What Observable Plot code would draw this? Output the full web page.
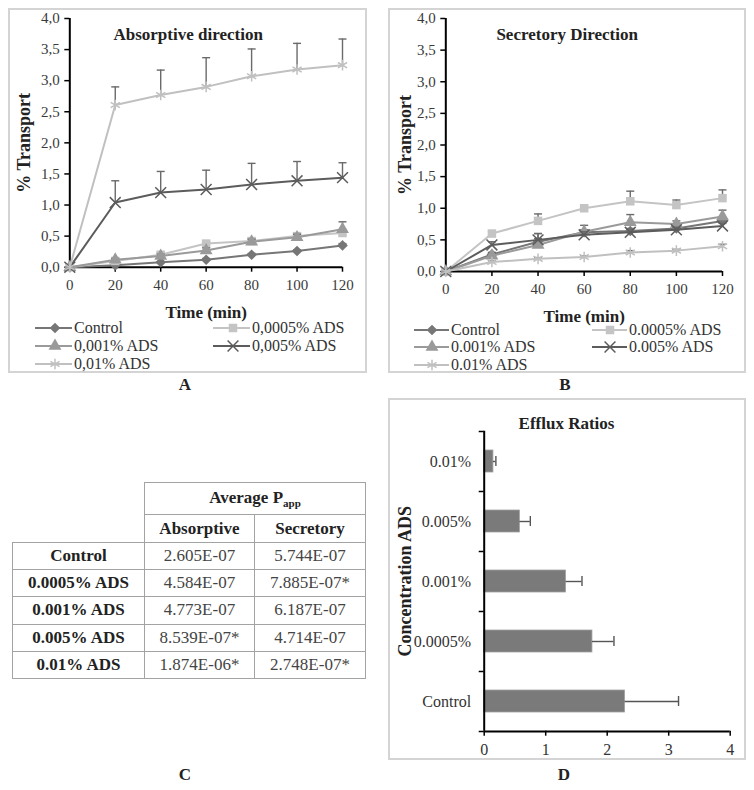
<!DOCTYPE html>
<html><head><meta charset="utf-8">
<script src="https://cdn.jsdelivr.net/npm/d3@7"></script>
<script src="https://cdn.jsdelivr.net/npm/@observablehq/plot@0.6"></script>
<style>
body{margin:0;background:#fff;font-family:"Liberation Serif","Times New Roman",serif;color:#222;}
#root{position:relative;width:754px;height:790px;overflow:hidden;background:#fff;}
.box{position:absolute;border:2px solid #d4d4d4;box-sizing:border-box;}
.abs{position:absolute;}
.letter{position:absolute;font-weight:bold;font-size:17px;transform:translate(-50%,-50%);color:#222;}
.leg{position:absolute;font-size:16px;color:#333;white-space:nowrap;line-height:16px;}
table.papp{position:absolute;left:12px;top:482px;border-collapse:collapse;font-size:17px;table-layout:fixed;}
table.papp td{border:1.5px solid #a3a3a3;text-align:center;padding:0;color:#444;}
table.papp td.h{font-weight:bold;color:#222;}
table.papp td.empty{border:none;}
sub{font-size:11px;}
</style>
</head><body><div id="root"></div>
<script>
// ---------- data ----------
const times = [0, 20, 40, 60, 80, 100, 120];
const yTicks = [0, 0.5, 1, 1.5, 2, 2.5, 3, 3.5, 4];
const seriesA = ["Control", "0,0005% ADS", "0,001% ADS", "0,005% ADS", "0,01% ADS"];
const seriesB = ["Control", "0.0005% ADS", "0.001% ADS", "0.005% ADS", "0.01% ADS"];

// Absorptive direction (% transport) and upper error (SD)
const absControl   = [0, 0.03, 0.08, 0.12, 0.20, 0.26, 0.35];
const absControlSd = [0, 0.01, 0.01, 0.02, 0.02, 0.02, 0.03];
const abs0005      = [0, 0.10, 0.20, 0.38, 0.42, 0.50, 0.55];
const abs0005Sd    = [0, 0.02, 0.03, 0.03, 0.04, 0.04, 0.05];
const abs001       = [0, 0.12, 0.18, 0.27, 0.41, 0.48, 0.61];
const abs001Sd     = [0, 0.02, 0.03, 0.04, 0.04, 0.05, 0.12];
const abs005       = [0, 1.04, 1.20, 1.25, 1.33, 1.39, 1.44];
const abs005Sd     = [0, 0.35, 0.34, 0.31, 0.34, 0.31, 0.24];
const abs01        = [0, 2.61, 2.77, 2.90, 3.07, 3.18, 3.25];
const abs01Sd      = [0, 0.29, 0.40, 0.47, 0.44, 0.42, 0.42];

// Secretory direction
const secControl   = [0, 0.27, 0.47, 0.62, 0.64, 0.68, 0.80];
const secControlSd = [0, 0.03, 0.05, 0.04, 0.04, 0.04, 0.05];
const sec0005      = [0, 0.60, 0.80, 1.00, 1.11, 1.05, 1.16];
const sec0005Sd    = [0, 0.03, 0.11, 0.03, 0.16, 0.08, 0.13];
const sec001       = [0, 0.25, 0.42, 0.63, 0.78, 0.75, 0.87];
const sec001Sd     = [0, 0.05, 0.18, 0.10, 0.12, 0.05, 0.10];
const sec005       = [0, 0.42, 0.50, 0.58, 0.62, 0.66, 0.72];
const sec005Sd     = [0, 0.05, 0.10, 0.05, 0.05, 0.04, 0.04];
const sec01        = [0, 0.15, 0.20, 0.23, 0.30, 0.33, 0.40];
const sec01Sd      = [0, 0.02, 0.02, 0.02, 0.03, 0.02, 0.03];

// Table C
const tableRows = ["Control", "0.0005% ADS", "0.001% ADS", "0.005% ADS", "0.01% ADS"];
const pappAbsorptive = ["2.605E-07", "4.584E-07", "4.773E-07", "8.539E-07*", "1.874E-06*"];
const pappSecretory  = ["5.744E-07", "7.885E-07*", "6.187E-07", "4.714E-07", "2.748E-07*"];

// Panel D
const effluxCats = ["Control", "0.0005%", "0.001%", "0.005%", "0.01%"];
const effluxRatio = [2.29, 1.76, 1.33, 0.58, 0.15];
const effluxSd    = [0.87, 0.35, 0.26, 0.17, 0.04];
const effluxTicks = [0, 1, 2, 3, 4];

// ---------- styles ----------
const seriesColors = ["#767676", "#c4c4c4", "#9a9a9a", "#5c5c5c", "#c0c0c0"];
const seriesSymbols = ["diamond2", "square", "triangle", "times", "asterisk"];
const seriesFilled = [true, true, true, false, false];
const d3Symbols = {diamond2: d3.symbolDiamond2, square: d3.symbolSquare, triangle: d3.symbolTriangle, times: d3.symbolTimes, asterisk: d3.symbolAsterisk};
const errColor = "#6a6a6a";
const FONT = '"Liberation Serif","Times New Roman",serif';
const capSymbol = {draw(ctx, size) { const w = Math.sqrt(size / Math.PI); ctx.moveTo(-w, 0); ctx.lineTo(w, 0); }};

const root = document.getElementById("root");
function place(el, left, top) { el.style.position = "absolute"; el.style.left = left + "px"; el.style.top = top + "px"; root.appendChild(el); return el; }
function box(left, top, w, h) { const d = document.createElement("div"); d.className = "box"; d.style.width = w + "px"; d.style.height = h + "px"; place(d, left, top); }
function letter(t, x, y) { const d = document.createElement("div"); d.className = "letter"; d.textContent = t; place(d, x, y); }

function transportPlot(vals, sds, o) {
  const marks = [
    Plot.ruleX([0], {stroke: "#000", strokeWidth: 2}),
    Plot.ruleY([0], {stroke: "#000", strokeWidth: 2}),
    Plot.axisY(yTicks, {tickSize: 5, tickPadding: 5, fontSize: 15, fill: "#3a3a3a", stroke: "#000", strokeWidth: 1.5, label: null, tickFormat: d => d.toFixed(1).replace(".", ",")}),
    Plot.axisX(times, {tickSize: 5, tickPadding: 7, fontSize: 15, fill: "#3a3a3a", stroke: "#000", strokeWidth: 1.5, label: null})
  ];
  vals.forEach((arr, k) => {
    const d = arr.map((v, i) => ({t: times[i], v, sd: sds[k][i]}));
    const e = d.filter(r => r.sd > 0);
    marks.push(Plot.ruleX(e, {x: "t", y1: "v", y2: r => r.v + r.sd, stroke: errColor, strokeWidth: 1.4}));
    marks.push(Plot.dot(e, {x: "t", y: r => r.v + r.sd, symbol: capSymbol, r: 4, stroke: errColor, strokeWidth: 1.4}));
    marks.push(Plot.line(d, {x: "t", y: "v", stroke: seriesColors[k], strokeWidth: 2}));
    marks.push(Plot.dot(d, seriesFilled[k]
      ? {x: "t", y: "v", symbol: seriesSymbols[k], r: 4.8, fill: seriesColors[k], stroke: "none"}
      : {x: "t", y: "v", symbol: seriesSymbols[k], r: 5, fill: "none", stroke: seriesColors[k], strokeWidth: 1.5}));
  });
  marks.push(Plot.text([o.title], {text: d => d, frameAnchor: "top", textAnchor: "middle", lineAnchor: "middle", dx: o.titleDx, dy: 16, fontSize: 17, fontWeight: "bold", fill: "#222"}));
  marks.push(Plot.text(["Time (min)"], {text: d => d, frameAnchor: "bottom", textAnchor: "middle", lineAnchor: "middle", dy: 45, fontSize: 17, fontWeight: "bold", fill: "#222"}));
  marks.push(Plot.text(["% Transport"], {text: d => d, frameAnchor: "left", textAnchor: "middle", lineAnchor: "middle", dx: o.ylabDx, rotate: -90, fontSize: 18, fontWeight: "bold", fill: "#222"}));
  return Plot.plot({
    width: o.width, height: 310, marginLeft: o.ml, marginRight: o.mr, marginTop: 10, marginBottom: o.mb,
    x: {domain: [0, 120]}, y: {domain: [0, 4]},
    style: {fontFamily: FONT, fontSize: "15px", background: "transparent", overflow: "visible", color: "#222"},
    marks
  });
}

function legend(names, cols, rows, lineLen, markerOff) {
  names.forEach((name, k) => {
    const c = cols[k % 2], y = rows[Math.floor(k / 2)];
    const svg = d3.create("svg").attr("width", lineLen).attr("height", 14).style("overflow", "visible");
    svg.append("line").attr("x1", 0).attr("x2", lineLen).attr("y1", 7).attr("y2", 7).attr("stroke", seriesColors[k]).attr("stroke-width", 2);
    const r = seriesFilled[k] ? 4.8 : 5;
    svg.append("path").attr("transform", `translate(${markerOff},7)`)
      .attr("d", d3.symbol(d3Symbols[seriesSymbols[k]], r * r * Math.PI)())
      .attr("fill", seriesFilled[k] ? seriesColors[k] : "none")
      .attr("stroke", seriesFilled[k] ? "none" : seriesColors[k]).attr("stroke-width", 1.5);
    const n = svg.node(); n.style.position = "absolute"; place(n, c, y - 7);
    const t = document.createElement("div"); t.className = "leg"; t.textContent = name;
    place(t, c + lineLen + 2, y - 8);
  });
}

// Panel A
box(8, 8, 359, 365);
place(transportPlot([absControl, abs0005, abs001, abs005, abs01], [absControlSd, abs0005Sd, abs001Sd, abs005Sd, abs01Sd],
  {title: "Absorptive direction", titleDx: -18, ylabDx: -46, width: 358, ml: 61.3, mr: 24, mb: 51.3}), 8, 8);
legend(seriesA, [35, 213], [328, 346, 364], 37, 20);
letter("A", 185, 385);

// Panel B
box(388, 8, 358, 365);
place(transportPlot([secControl, sec0005, sec001, sec005, sec01], [secControlSd, sec0005Sd, sec001Sd, sec005Sd, sec01Sd],
  {title: "Secretory Direction", titleDx: -17, ylabDx: -41, width: 357, ml: 56.3, mr: 24, mb: 47}), 389, 8);
legend(seriesB, [414, 592], [330, 347, 365], 35, 18);
letter("B", 565, 385);

// Table C
{
  const tbl = document.createElement("table"); tbl.className = "papp";
  const cg = document.createElement("colgroup");
  [132, 110, 111].forEach(w => { const c = document.createElement("col"); c.style.width = w + "px"; cg.appendChild(c); });
  tbl.appendChild(cg);
  let html = `<tr style="height:32px"><td class="empty" rowspan="2"></td><td class="h" colspan="2">Average P<sub>app</sub></td></tr>`;
  html += `<tr style="height:28px"><td class="h">Absorptive</td><td class="h">Secretory</td></tr>`;
  tableRows.forEach((r, i) => {
    html += `<tr style="height:27.2px"><td class="h">${r}</td><td>${pappAbsorptive[i]}</td><td>${pappSecretory[i]}</td></tr>`;
  });
  tbl.insertAdjacentHTML("beforeend", html);
  root.appendChild(tbl);
  tbl.style.width = "353px";
}
letter("C", 185, 775);

// Panel D
box(388, 398, 358, 362);
{
  const data = effluxCats.map((c, i) => ({c, r: effluxRatio[i], sd: effluxSd[i]}));
  const order = effluxCats.slice().reverse();
  const p = Plot.plot({
    width: 358, height: 360, marginLeft: 95.7, marginRight: 16.3, marginTop: 30.7, marginBottom: 29.3,
    x: {domain: [0, 4]},
    y: {domain: order, paddingInner: 0.63, paddingOuter: 0.315},
    style: {fontFamily: FONT, fontSize: "16px", background: "transparent", overflow: "visible", color: "#222"},
    marks: [
      Plot.barX(data, {x: "r", y: "c", fill: "#7a7a7a", stroke: "#a0a0a0", strokeWidth: 0.8}),
      Plot.ruleY(data, {y: "c", x1: "r", x2: d => d.r + d.sd, stroke: "#555", strokeWidth: 1.4}),
      Plot.tickX(data, {y: "c", x: d => d.r + d.sd, stroke: "#555", strokeWidth: 1.4, insetTop: 6, insetBottom: 6}),
      Plot.ruleX([0], {stroke: "#000", strokeWidth: 2}),
      Plot.ruleY(["Control"], {stroke: "#000", strokeWidth: 2, dy: 30}),
      Plot.axisY(order, {tickSize: 0, tickPadding: 13, fontSize: 16, fill: "#333", label: null}),
      Plot.axisY(order, {tickSize: 5, stroke: "#000", strokeWidth: 1.5, dy: -30, tickFormat: () => "", label: null}),
      Plot.axisY(["Control"], {tickSize: 5, stroke: "#000", strokeWidth: 1.5, dy: 30, tickFormat: () => "", label: null}),
      Plot.axisX(effluxTicks, {tickSize: 5, tickPadding: 7, fontSize: 16, fill: "#333", stroke: "#000", strokeWidth: 1.5, label: null}),
      Plot.text(["Efflux Ratios"], {text: d => d, frameAnchor: "top", textAnchor: "middle", lineAnchor: "middle", dx: -40.7, dy: -8, fontSize: 17, fontWeight: "bold", fill: "#222"}),
      Plot.text(["Concentration ADS"], {text: d => d, frameAnchor: "left", textAnchor: "middle", lineAnchor: "middle", dx: -79, rotate: -90, fontSize: 18, fontWeight: "bold", fill: "#222"})
    ]
  });
  place(p, 388, 400);
}
letter("D", 564, 775);
</script>
</body></html>
